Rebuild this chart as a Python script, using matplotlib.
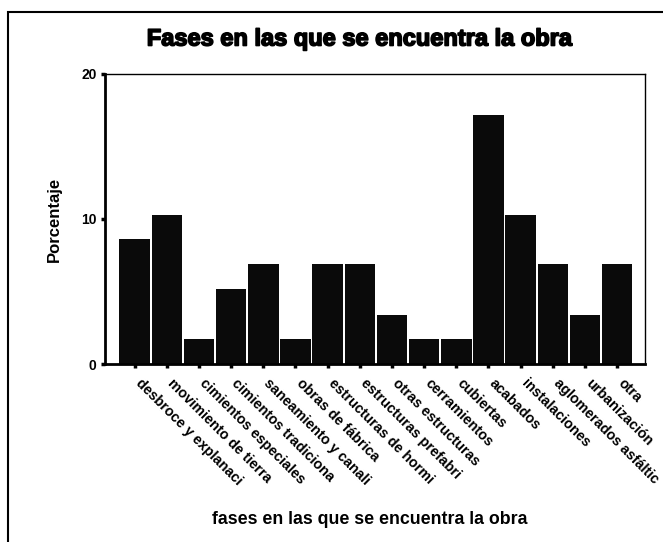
import matplotlib
matplotlib.use("Agg")
import matplotlib.pyplot as plt
from matplotlib.patches import Rectangle
from matplotlib.transforms import ScaledTranslation
import matplotlib.patheffects as pe

categories = ["desbroce y explanaci", "movimiento de tierra", "cimientos especiales",
              "cimientos tradiciona", "saneamiento y canali", "obras de fábrica",
              "estructuras de hormi", "estructuras prefabri", "otras estructuras",
              "cerramientos", "cubiertas", "acabados", "instalaciones",
              "aglomerados asfáltic", "urbanización", "otra"]
values = [8.6, 10.3, 1.7, 5.2, 6.9, 1.7, 6.9, 6.9, 3.4, 1.7, 1.7, 17.2, 10.3, 6.9, 3.4, 6.9]
yticks = [0, 10, 20]

plt.rcParams['font.family'] = ['Liberation Sans', 'DejaVu Sans']

fig = plt.figure(figsize=(6.63, 5.42), dpi=100)
ax = fig.add_axes([0.158, 0.3284, 0.815, 0.5351])

x = list(range(len(categories)))
ax.bar(x, values, width=0.95, color='#0a0a0a', edgecolor='none')

ax.set_xlim(-0.93, len(categories) - 0.13)
ax.set_ylim(0, 20)
ax.set_yticks(yticks)
ax.set_yticklabels([str(t) for t in yticks], fontsize=10, fontweight='bold')
ax.set_xticks(x)
ax.set_xticklabels(categories, rotation=-45, ha='left', va='top',
                   rotation_mode='anchor', fontsize=10.3, fontweight='bold')
ax.tick_params(axis='x', length=3, width=2.5, direction='out', pad=6)
ax.tick_params(axis='y', length=3, width=2.5, direction='out', pad=3)
shift = ScaledTranslation(0.08, 0, fig.dpi_scale_trans)
for lab in ax.get_xticklabels():
    lab.set_transform(lab.get_transform() + shift)

for s in ['left', 'bottom']:
    ax.spines[s].set_linewidth(2)
for s in ['top', 'right']:
    ax.spines[s].set_linewidth(1)

ax.set_ylabel('Porcentaje', fontsize=12, fontweight='bold', labelpad=14)
fig.text(370 / 663, 1 - 519 / 542, 'fases en las que se encuentra la obra',
         ha='center', va='center', fontsize=12.8, fontweight='bold')
fig.text(360 / 663, 1 - 39 / 542, 'Fases en las que se encuentra la obra',
         ha='center', va='center', fontsize=17, fontweight='heavy',
         path_effects=[pe.withStroke(linewidth=1.2, foreground='black')])

fig.patches.append(Rectangle((8 / 663, -0.01), 1.0, 1 - 12 / 542 + 0.01,
                             transform=fig.transFigure, fill=False,
                             edgecolor='black', linewidth=1.5))

fig.savefig('out.png', dpi=100)
